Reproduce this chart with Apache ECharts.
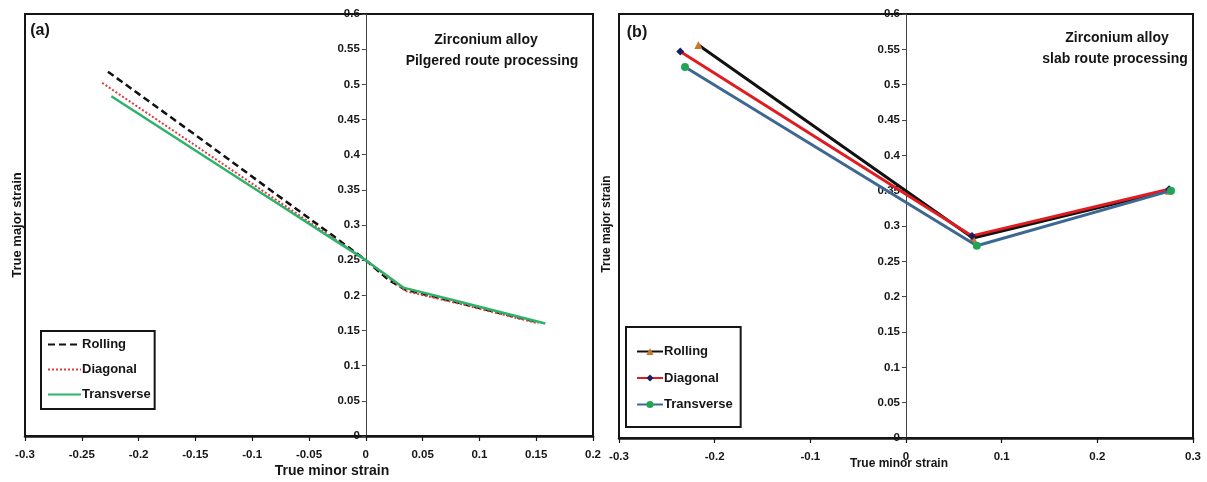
<!DOCTYPE html>
<html>
<head>
<meta charset="utf-8">
<script src="https://cdn.jsdelivr.net/npm/echarts@6/dist/echarts.min.js"></script>
<style>
  html, body { margin: 0; padding: 0; background: #fff; }
  #chart { width: 1207px; height: 482px; }
</style>
</head>
<body>
<div id="chart"></div>
<script>
// Forming limit curves of a zirconium alloy: [true minor strain, true major strain]
const seriesNames = ['Rolling', 'Diagonal', 'Transverse'];

// (a) pilgered route processing
const rollingA = [[-0.227, 0.518], [-0.15, 0.428], [-0.08, 0.345], [-0.03, 0.286], [0, 0.250], [0.02, 0.222], [0.035, 0.208], [0.08, 0.190], [0.148, 0.163]];
const diagonalA = [[-0.232, 0.502], [-0.15, 0.413], [-0.08, 0.337], [-0.03, 0.283], [0, 0.250], [0.035, 0.206], [0.08, 0.189], [0.152, 0.160]];
const transverseA = [[-0.224, 0.483], [-0.15, 0.406], [-0.08, 0.333], [-0.03, 0.281], [0, 0.250], [0.033, 0.211], [0.08, 0.192], [0.158, 0.160]];

// (b) slab route processing
const rollingB = [[-0.217, 0.556], [0.070, 0.283], [0.275, 0.350]];
const diagonalB = [[-0.236, 0.547], [0.069, 0.286], [0.275, 0.352]];
const transverseB = [[-0.231, 0.525], [0.074, 0.272], [0.277, 0.350]];

// axis ranges and tick steps
const xRangeA = [-0.3, 0.2];
const xStepA = 0.05;
const xRangeB = [-0.3, 0.3];
const xStepB = 0.1;
const yRange = [0, 0.6];
const yStep = 0.05;

const FONT = "'Liberation Sans Narrow','Arial Narrow','Liberation Sans',Arial,sans-serif";
const INK = '#151515';

const chart = echarts.init(document.getElementById('chart'), null, { renderer: 'canvas' });

// grid geometry (pixels)
const gridA = { left: 25, right: 614, top: 14, bottom: 46 };
const gridB = { left: 619, right: 14, top: 14, bottom: 44 };
const W = 1207;

// pixel distance from the grid's left edge to x = 0, so the y axis sits on the zero line
function zeroOffset(grid, range) {
  const width = W - grid.left - grid.right;
  return -width * (0 - range[0]) / (range[1] - range[0]);
}

function xAxisCfg(gridIndex, range, step) {
  return {
    type: 'value', gridIndex: gridIndex, min: range[0], max: range[1], interval: step,
    axisLine: { show: true, onZero: false, lineStyle: { color: INK, width: 2.5 } },
    axisTick: { show: true, length: 5, lineStyle: { color: INK, width: 1.2 } },
    axisLabel: { color: INK, fontFamily: FONT, fontWeight: 'bold', fontSize: 11.5, margin: 13 },
    splitLine: { show: false }
  };
}
function yAxisCfg(gridIndex, offset) {
  return {
    type: 'value', gridIndex: gridIndex, min: yRange[0], max: yRange[1], interval: yStep,
    position: 'left', offset: offset,
    axisLine: { show: true, onZero: false, lineStyle: { color: '#444', width: 1 } },
    axisTick: { show: true, length: 4, lineStyle: { color: '#444', width: 1 } },
    axisLabel: { color: INK, fontFamily: FONT, fontWeight: 'bold', fontSize: 11.5, margin: 6 },
    splitLine: { show: false }
  };
}

const tagA = n => 'a:' + n;
const tagB = n => 'b:' + n;
const untag = n => n.slice(2);

const styleA = [
  { color: '#111111', width: 2.5, type: [7, 4] },
  { color: '#e03a40', width: 2, type: [2, 2] },
  { color: '#2bb36a', width: 2.5, type: 'solid' }
];
const styleB = [
  { line: '#111111', marker: '#c8782f', symbol: 'triangle' },
  { line: '#e01c20', marker: '#1c1f5c', symbol: 'diamond' },
  { line: '#3d6893', marker: '#22a457', symbol: 'circle' }
];
const dataA = [rollingA, diagonalA, transverseA];
const dataB = [rollingB, diagonalB, transverseB];

const series = [];
seriesNames.forEach((n, i) => {
  series.push({
    name: tagA(n), type: 'line', xAxisIndex: 0, yAxisIndex: 0, data: dataA[i],
    symbol: 'none', smooth: false, lineStyle: styleA[i], itemStyle: { color: styleA[i].color }, z: 2 + i
  });
});
seriesNames.forEach((n, i) => {
  series.push({
    name: tagB(n), type: 'line', xAxisIndex: 1, yAxisIndex: 1, data: dataB[i],
    symbol: styleB[i].symbol, symbolSize: 8, showAllSymbol: true,
    lineStyle: { color: styleB[i].line, width: 3 },
    itemStyle: { color: styleB[i].marker, borderWidth: 0 }, z: 2 + i
  });
});

function label(text, x, y, size, opts) {
  return Object.assign({
    type: 'text', x: x, y: y, silent: true,
    style: {
      text: text, x: 0, y: 0, fill: INK,
      font: 'bold ' + size + 'px ' + FONT,
      align: 'center', textAlign: 'center', verticalAlign: 'middle', textVerticalAlign: 'middle'
    }
  }, opts || {});
}

chart.setOption({
  animation: false,
  backgroundColor: '#ffffff',
  grid: [
    Object.assign({ show: true, borderColor: INK, borderWidth: 2, backgroundColor: 'transparent' }, gridA),
    Object.assign({ show: true, borderColor: INK, borderWidth: 2, backgroundColor: 'transparent' }, gridB)
  ],
  xAxis: [xAxisCfg(0, xRangeA, xStepA), xAxisCfg(1, xRangeB, xStepB)],
  yAxis: [yAxisCfg(0, zeroOffset(gridA, xRangeA)), yAxisCfg(1, zeroOffset(gridB, xRangeB))],
  legend: [
    {
      orient: 'vertical', left: 41, top: 331, selectedMode: false,
      data: seriesNames.map(n => ({ name: tagA(n), itemStyle: { opacity: 0 } })), formatter: untag,
      itemWidth: 33, itemHeight: 14, itemGap: 12, padding: [7, 4, 8, 6],
      borderColor: INK, borderWidth: 2, backgroundColor: '#fff',
      textStyle: { color: INK, fontFamily: FONT, fontWeight: 'bold', fontSize: 13, padding: [0, 0, 0, -4] }
    },
    {
      orient: 'vertical', left: 626, top: 327, selectedMode: false,
      data: seriesNames.map(tagB), formatter: untag,
      itemWidth: 26, itemHeight: 9, itemGap: 13.5, padding: [18, 8, 16, 10],
      borderColor: INK, borderWidth: 2, backgroundColor: '#fff',
      textStyle: { color: INK, fontFamily: FONT, fontWeight: 'bold', fontSize: 13, padding: [0, 0, 0, -4] }
    }
  ],
  graphic: [
    label('(a)', 40, 31, 16),
    label('Zirconium alloy', 486, 40, 14),
    label('Pilgered route processing', 492, 61, 14),
    label('True minor strain', 332, 471, 14),
    label('True major strain', 17, 225, 13, { rotation: Math.PI / 2 }),
    label('(b)', 637, 33, 16),
    label('Zirconium alloy', 1117, 38, 14),
    label('slab route processing', 1115, 59, 14),
    label('True minor strain', 899, 464, 12),
    label('True major strain', 607, 224, 12, { rotation: Math.PI / 2 })
  ],
  series: series
});
</script>
</body>
</html>
